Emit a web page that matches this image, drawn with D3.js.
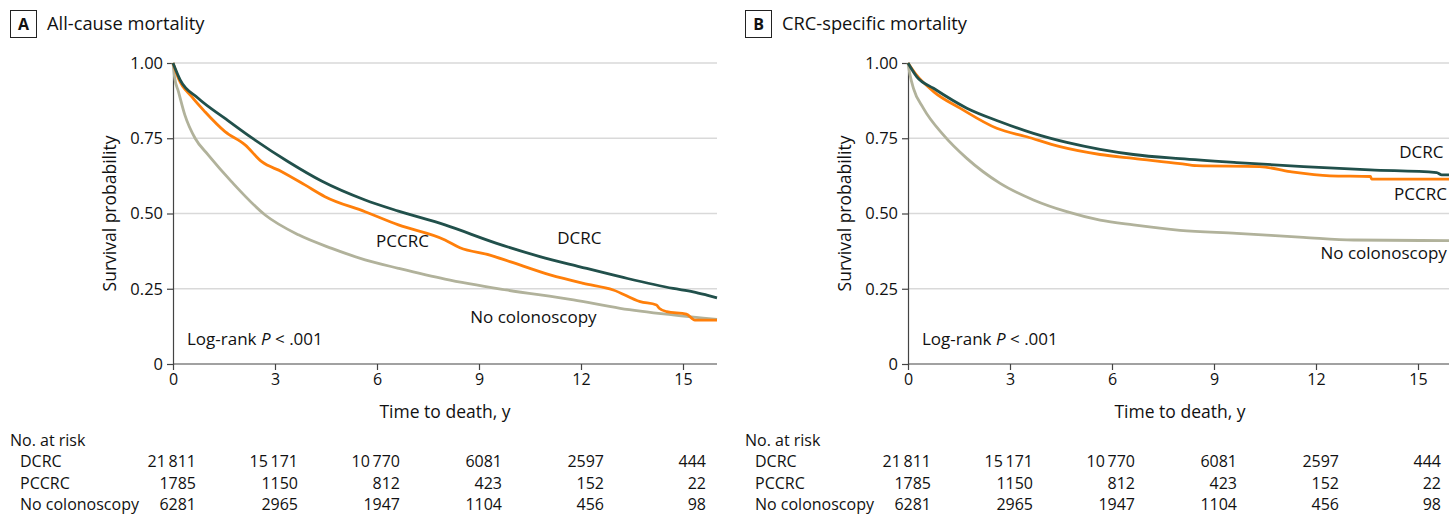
<!DOCTYPE html>
<html>
<head>
<meta charset="utf-8">
<script src="https://cdn.jsdelivr.net/npm/d3@7"></script>
<style>
  html, body { margin: 0; padding: 0; background: #fff; }
  svg { display: block; font-family: "Open Sans", sans-serif; }
</style>
</head>
<body>
<div id="chart"></div>
<script>
// Kaplan-Meier curves
const panelTitles = ['All-cause mortality', 'CRC-specific mortality'];
const panelLetters = ['A', 'B'];
const groups = ['DCRC', 'PCCRC', 'No colonoscopy'];
const xTicks = [0, 3, 6, 9, 12, 15];
const yTicks = [0, 0.25, 0.5, 0.75, 1];
const yTickLabels = ['0', '0.25', '0.50', '0.75', '1.00'];

// No. at risk (same in both panels)
const riskDCRC = [21811, 15171, 10770, 6081, 2597, 444];
const riskPCCRC = [1785, 1150, 812, 423, 152, 22];
const riskNoColo = [6281, 2965, 1947, 1104, 456, 98];

// Panel A: all-cause
const allDCRC = [[0,1],[0.21,0.944],[0.74,0.883],[1.53,0.816],[2.31,0.752],[3.39,0.672],[4.37,0.608],[5.65,0.545],[6.63,0.508],[8.0,0.462],[9.52,0.401],[10.79,0.357],[11.97,0.323],[13.15,0.29],[14.71,0.251],[15.3,0.24],[15.7,0.229],[16,0.22]];
const allPCCRC = [[0,1],[0.16,0.949],[0.55,0.888],[0.94,0.838],[1.53,0.772],[2.12,0.728],[2.61,0.672],[3.2,0.639],[3.88,0.595],[4.47,0.556],[5.65,0.506],[6.63,0.462],[8.0,0.412],[8.44,0.386],[9.32,0.362],[9.91,0.34],[11.09,0.296],[12.07,0.268],[12.95,0.246],[13.74,0.207],[14.22,0.196],[14.3,0.185],[14.52,0.174],[15.1,0.166],[15.35,0.146],[16,0.146]];
const allNoColo = [[0,1],[0.05,0.95],[0.16,0.905],[0.35,0.827],[0.65,0.75],[1.04,0.694],[1.72,0.606],[2.71,0.495],[3.69,0.429],[4.67,0.384],[5.65,0.346],[6.63,0.318],[8.0,0.282],[9.8,0.246],[11.78,0.213],[13.15,0.185],[14.7,0.163],[16,0.148]];

// Panel B: CRC-specific
const crcDCRC = [[0,1],[0.26,0.954],[0.75,0.916],[1.73,0.85],[2.71,0.805],[3.69,0.766],[4.67,0.736],[5.65,0.713],[6.63,0.696],[8.0,0.682],[9.67,0.669],[11.63,0.656],[13.59,0.645],[15.55,0.636],[15.7,0.628],[16,0.628]];
const crcPCCRC = [[0,1],[0.21,0.966],[0.75,0.905],[1.53,0.85],[2.61,0.783],[3.49,0.755],[4.47,0.722],[5.65,0.696],[6.63,0.683],[8.0,0.666],[8.49,0.659],[10.35,0.656],[11.24,0.639],[12.41,0.625],[13.6,0.623],[13.64,0.614],[16,0.614]];
const crcNoColo = [[0,1],[0.06,0.96],[0.16,0.916],[0.45,0.85],[1.04,0.761],[1.73,0.683],[2.71,0.6],[3.69,0.545],[4.67,0.506],[5.65,0.478],[6.63,0.462],[8.0,0.444],[9.67,0.434],[11.63,0.421],[13.1,0.412],[16,0.41]];

const colors = ['#21504b', '#ff7f0a', '#b1b29b'];

const W = 1449, H = 514;
const panelOffset = 735;
const m = { left: 173, top: 63, right: 717, bottom: 364 };
const FONT = '"Open Sans", sans-serif';

const svg = d3.select('#chart').append('svg')
  .attr('width', W)
  .attr('height', H)
  .attr('viewBox', `0 0 ${W} ${H}`);

const x = d3.scaleLinear().domain([0, 16]).range([m.left, m.right]);
const y = d3.scaleLinear().domain([0, 1]).range([m.bottom, m.top]);

function fmtN(n) {
  // thin space thousands separator on 5-digit numbers
  return n >= 10000 ? d3.format(',')(n).replace(',', '\u2009') : String(n);
}

const panels = [
  { curves: [allDCRC, allPCCRC, allNoColo],
    labels: [
      { text: 'DCRC', x: 11.95, y: 0.40, anchor: 'middle' },
      { text: 'PCCRC', x: 6.75, y: 0.39, anchor: 'middle' },
      { text: 'No colonoscopy', x: 10.6, y: 0.135, anchor: 'middle' }
    ] },
  { curves: [crcDCRC, crcPCCRC, crcNoColo],
    labels: [
      { text: 'DCRC', x: 15.75, y: 0.685, anchor: 'end' },
      { text: 'PCCRC', x: 15.85, y: 0.545, anchor: 'end' },
      { text: 'No colonoscopy', x: 15.85, y: 0.35, anchor: 'end' }
    ] }
];

const risks = [riskDCRC, riskPCCRC, riskNoColo];

panels.forEach((p, i) => {
  const g = svg.append('g').attr('transform', `translate(${i * panelOffset},0)`);

  // header
  g.append('rect')
    .attr('x', 10.5).attr('y', 10.5).attr('width', 26).attr('height', 27)
    .attr('fill', 'none').attr('stroke', '#222').attr('stroke-width', 1);
  g.append('text')
    .attr('x', 23.5).attr('y', 30)
    .attr('text-anchor', 'middle')
    .attr('font-size', 16).attr('font-weight', 'bold').attr('fill', '#111')
    .text(panelLetters[i]);
  g.append('text')
    .attr('x', 47).attr('y', 30)
    .attr('font-size', 18.3).attr('fill', '#111')
    .text(panelTitles[i]);

  // grid
  g.append('g')
    .selectAll('line')
    .data(yTicks.filter(d => d > 0))
    .join('line')
    .attr('x1', m.left).attr('x2', m.right)
    .attr('y1', d => y(d)).attr('y2', d => y(d))
    .attr('stroke', '#d9d9d9').attr('stroke-width', 1.5);

  // y axis
  const yAxis = g.append('g')
    .attr('transform', `translate(${m.left},0)`)
    .call(d3.axisLeft(y).tickValues(yTicks).tickFormat((d, k) => yTickLabels[k]).tickSize(6).tickPadding(4));
  yAxis.select('.domain').attr('stroke', '#444').attr('stroke-width', 1.2);
  yAxis.selectAll('.tick line').attr('stroke', '#444').attr('stroke-width', 1.2);
  yAxis.selectAll('.tick text').attr('font-size', 16.5).attr('fill', '#111').attr('font-family', FONT);

  // x axis
  const xAxis = g.append('g')
    .attr('transform', `translate(0,${m.bottom})`)
    .call(d3.axisBottom(x).tickValues(xTicks).tickSize(6).tickPadding(4));
  xAxis.select('.domain').attr('stroke', '#444').attr('stroke-width', 1.2)
    .attr('d', `M${m.left},0H${m.right}`);
  xAxis.selectAll('.tick line').attr('stroke', '#444').attr('stroke-width', 1.2);
  xAxis.selectAll('.tick text').attr('font-size', 16).attr('fill', '#111').attr('font-family', FONT);

  // axis titles
  g.append('text')
    .attr('x', (m.left + m.right) / 2).attr('y', 418)
    .attr('text-anchor', 'middle').attr('font-size', 17.5).attr('fill', '#111')
    .text('Time to death, y');
  g.append('text')
    .attr('transform', `translate(116,${(m.top + m.bottom) / 2}) rotate(-90)`)
    .attr('text-anchor', 'middle').attr('font-size', 17.5).attr('fill', '#111')
    .text('Survival probability');

  // curves, drawn back to front
  const line = d3.line().x(d => x(d[0])).y(d => y(d[1])).curve(d3.curveMonotoneX);
  [2, 1, 0].forEach(k => {
    g.append('path')
      .datum(p.curves[k])
      .attr('d', line)
      .attr('fill', 'none')
      .attr('stroke', colors[k])
      .attr('stroke-width', 2.8)
      .attr('stroke-linejoin', 'round');
  });

  // curve labels
  p.labels.forEach(l => {
    g.append('text')
      .attr('x', x(l.x)).attr('y', y(l.y))
      .attr('text-anchor', l.anchor)
      .attr('font-size', 17).attr('fill', '#111')
      .text(l.text);
  });

  // log-rank
  const lr = g.append('text')
    .attr('x', m.left + 14).attr('y', 345)
    .attr('font-size', 17).attr('fill', '#111');
  lr.append('tspan').text('Log-rank ');
  lr.append('tspan').attr('font-style', 'italic').text('P');
  lr.append('tspan').text(' < .001');

  // risk table
  g.append('text')
    .attr('x', 10).attr('y', 446)
    .attr('font-size', 16).attr('fill', '#111')
    .text('No. at risk');
  groups.forEach((name, r) => {
    const yy = 467 + r * 21.5;
    g.append('text')
      .attr('x', 20).attr('y', yy)
      .attr('font-size', 16).attr('fill', '#111')
      .text(name);
    g.append('g')
      .selectAll('text')
      .data(risks[r])
      .join('text')
      .attr('x', (d, c) => x(xTicks[c]) + 23)
      .attr('y', yy)
      .attr('text-anchor', 'end')
      .attr('font-size', 16).attr('fill', '#111')
      .text(d => fmtN(d));
  });
});
</script>
</body>
</html>
